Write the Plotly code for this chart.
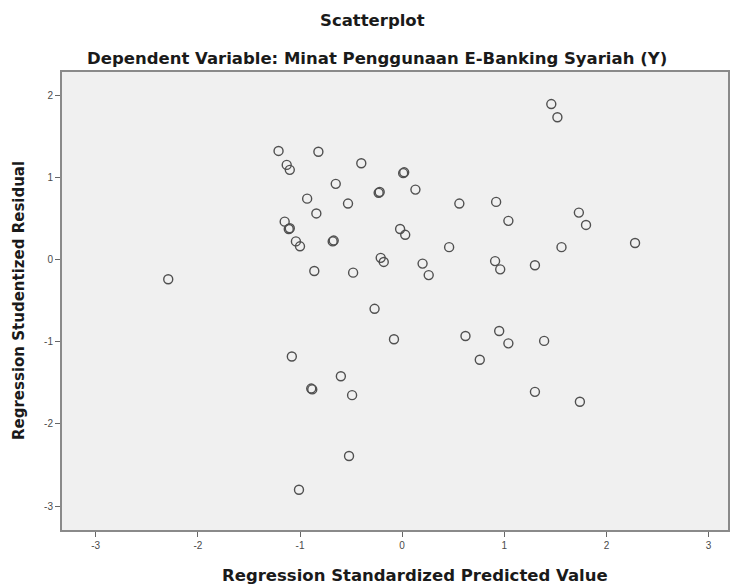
import plotly.graph_objects as go

pred = [-1.21, -0.82, -0.40, -1.13, -1.10, -0.65, -0.23, -0.22, -0.93, -0.53, -0.84,
        0.02, 0.01, -1.15, -1.11, -1.10, -1.04, -1.00, -0.68, -0.67, -0.21, -0.18,
        -0.86, -0.48, -2.29, -0.02, 0.03,
        1.46, 1.52, 0.13, 0.56, 0.92, 1.04, 1.73, 1.80, 0.46, 1.56, 2.28,
        0.20, 0.26, 0.91, 0.96, 1.30,
        -0.27, -0.08, -1.08, -0.60, -0.89, -0.88, -0.49, -0.52, -1.01,
        0.62, 0.95, 1.04, 1.39, 0.76, 1.30, 1.74]
resid = [1.32, 1.31, 1.17, 1.15, 1.09, 0.92, 0.81, 0.82, 0.74, 0.68, 0.56,
         1.06, 1.05, 0.46, 0.37, 0.38, 0.22, 0.16, 0.22, 0.23, 0.02, -0.03,
         -0.14, -0.16, -0.24, 0.37, 0.30,
         1.89, 1.73, 0.85, 0.68, 0.70, 0.47, 0.57, 0.42, 0.15, 0.15, 0.20,
         -0.05, -0.19, -0.02, -0.12, -0.07,
         -0.60, -0.97, -1.18, -1.42, -1.57, -1.58, -1.65, -2.39, -2.80,
         -0.93, -0.87, -1.02, -0.99, -1.22, -1.61, -1.73]

ticks = [-3, -2, -1, 0, 1, 2, 3]
title_main = "Scatterplot"
title_sub = "Dependent Variable: Minat Penggunaan E-Banking Syariah (Y)"
x_title = "Regression Standardized Predicted Value"
y_title = "Regression Studentized Residual"

HFONT = dict(family="DejaVu Sans", size=16.5, color="#1a1a1a")
VFONT = dict(family="DejaVu Sans", size=15, color="#1a1a1a")

fig = go.Figure(go.Scatter(
    x=pred, y=resid, mode="markers",
    marker=dict(symbol="circle-open", size=9, color="#505050", line=dict(width=1.4)),
    hoverinfo="skip"))

axis_common = dict(
    tickmode="array", tickvals=ticks, ticktext=[str(t) for t in ticks],
    showgrid=False, zeroline=False, showline=True, linecolor="#8a8a8a", linewidth=2,
    mirror=True, ticks="outside", ticklen=5, tickcolor="#666666",
    tickfont=dict(family="Liberation Sans", size=10, color="#4a4a4a"))

fig.update_layout(
    width=734, height=588,
    margin=dict(l=62, r=4, t=72, b=58),
    paper_bgcolor="white", plot_bgcolor="#f0f0f0",
    showlegend=False,
    font=dict(family="Liberation Sans", color="#111111"),
    xaxis=dict(range=[-3.33, 3.19], **axis_common),
    yaxis=dict(range=[-3.29, 2.28], **axis_common),
    annotations=[
        dict(text="<b>" + title_main + "</b>", xref="paper", yref="paper",
             x=0.466, y=1.0, yshift=52, showarrow=False, font=HFONT,
             xanchor="center", yanchor="middle"),
        dict(text="<b>" + title_sub + "</b>", xref="paper", yref="paper",
             x=0.473, y=1.0, yshift=14, showarrow=False, font=HFONT,
             xanchor="center", yanchor="middle"),
        dict(text="<b>" + x_title + "</b>", xref="paper", yref="paper",
             x=0.53, y=0.0, yshift=-45, showarrow=False, font=HFONT,
             xanchor="center", yanchor="middle"),
        dict(text="<b>" + y_title + "</b>", xref="paper", yref="paper",
             x=0.0, y=0.5, xshift=-43, showarrow=False, font=VFONT,
             textangle=-90, xanchor="center", yanchor="middle"),
    ],
)

fig.write_html("out.html")
